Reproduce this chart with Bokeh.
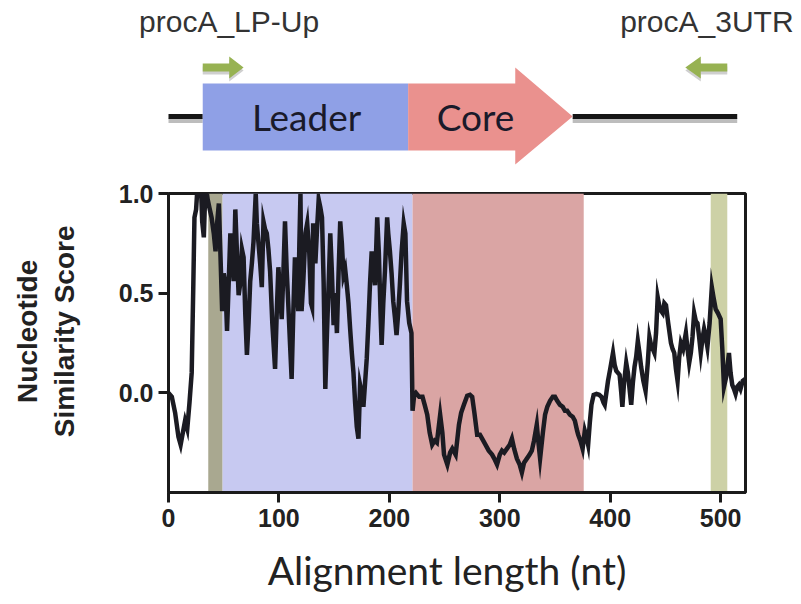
from bokeh.plotting import figure
from bokeh.layouts import column
from bokeh.models import Range1d, FixedTicker, NumeralTickFormatter, BoxAnnotation, Div
from bokeh.core.properties import value
from bokeh.embed import file_html
from bokeh.resources import INLINE

# ---------------- data ----------------
pos = [0, 3, 6, 9, 11, 13, 15, 17, 19, 21, 22.5, 23.5, 25, 27, 29, 30.5, 32, 33.5, 35.5, 37, 39,
       41, 42.6, 44, 45.6, 47, 48.6, 50, 51.6, 53, 54.5, 56, 57.5, 59, 60.5, 62, 63.5, 65, 66.5, 68,
       69.5, 71, 72.5, 74, 75.5, 77, 79, 80, 81.5, 83, 84.5, 86, 87.5, 89, 90.5, 92, 94, 96.5, 98,
       99.5, 101, 102.5, 104, 105.5, 107, 108.5, 110, 111.5, 113, 114.5, 116, 117.5, 118.5, 119.5,
       120.5, 122, 124, 125.6, 127.5, 129, 130, 131, 133, 134.5, 136, 137.5, 139, 140.5, 142, 143.5,
       145, 146.5, 148, 149.5, 151, 152.5, 154, 155.5, 157, 158.5, 160, 161.5, 163, 164.5, 166,
       167.5, 169, 170.5, 172, 173.5, 175, 176.5, 178, 179.5, 181, 182.5, 184, 185.5, 187, 189,
       190.5, 192, 193, 194.5, 196, 198, 199, 200.5, 202, 203.5, 205, 206.5, 208, 209.5, 211, 213,
       214.5, 216, 218, 220, 221, 222.5,
       224, 227, 230, 232, 234.3, 236.5, 238.8, 241, 243, 246, 248, 249.5, 252.5, 255, 257, 260,
       263, 265, 267.5, 270.5, 273, 275, 277, 279.5, 282, 284, 287, 290, 293, 295, 297.5, 300, 302,
       304, 306.5, 309, 311, 313, 315.5, 318, 320, 322, 324.5, 327, 329, 331, 333.5, 335, 336.5,
       339, 341, 343, 345.5, 348, 350, 352, 354.5, 357, 359, 361, 363.5, 366, 368, 370, 371, 373,
       375, 377, 378.5, 380, 381.5, 383, 385, 387.5, 390, 392, 394, 395, 396.5, 398, 400, 402.5,
       404, 405.5, 407, 408.5, 410, 411, 412.5, 414.5, 416, 417.5, 419, 420.5, 422, 423.5, 425,
       426.5, 428, 430, 432, 434, 435.5, 437, 438.5, 440, 441.5, 443, 445, 447.5, 449, 450.5,
       452.5, 455, 456.5, 458, 459.5, 461, 462.5, 464, 466, 468.5, 470, 471.5, 473, 474.5, 476,
       477.5, 479, 480.5, 482, 483.5, 485, 486.5, 488, 490, 492, 493.5, 495.5, 497.5, 500, 501.5,
       503, 505, 507.5, 509, 510.5, 512, 513.5, 515, 516.5, 518, 520, 522.5]
score = [0.0, -0.02, -0.10, -0.22, -0.26, -0.20, -0.14, -0.18, -0.05, 0.10, 0.55, 0.88, 0.92, 1.1, 1.1, 0.86, 0.78, 1.05, 0.97, 0.93, 0.88,
         0.80, 0.71, 0.85, 0.95, 0.70, 0.41, 0.60, 0.54, 0.31, 0.55, 0.80, 0.70, 0.56, 0.92, 0.70, 0.49, 0.55, 0.72, 0.68,
         0.40, 0.19, 0.35, 0.56, 0.65, 0.76, 1.0, 0.85, 0.75, 0.65, 0.53, 0.86, 0.82, 0.80, 0.72, 0.61, 0.35, 0.12, 0.40,
         0.63, 0.50, 0.37, 0.60, 0.86, 0.62, 0.44, 0.25, 0.07, 0.40, 0.68, 0.55, 0.41, 0.75, 1.0,
         0.41, 0.55, 0.80, 0.85, 0.70, 0.45, 0.43, 0.85, 0.65, 0.82, 0.97, 0.93, 0.88, 0.55, 0.02, 0.30,
         0.54, 0.80, 0.60, 0.34, 0.50, 0.30, 0.60, 0.86, 0.75, 0.59, 0.62, 0.54, 0.45, 0.32, 0.20,
         0.10, -0.05, -0.17, -0.23, 0.04, 0.00, -0.07, 0.05, 0.17, 0.35, 0.55, 0.71, 0.62, 0.54, 0.88,
         0.70, 0.40, 0.24, 0.45, 0.61, 0.88, 0.80, 0.71, 0.60, 0.46, 0.38, 0.29, 0.40, 0.54, 0.70, 0.85,
         0.80, 0.46, 0.35, 0.30, -0.09, -0.01,
         0.0, -0.02, -0.02, -0.06, -0.11, -0.20, -0.26, -0.24, -0.25, -0.11, -0.20, -0.31, -0.36, -0.30, -0.28, -0.31,
         -0.16, -0.10, -0.06, -0.015, -0.01, -0.02, -0.10, -0.21, -0.21, -0.23, -0.26, -0.29, -0.31, -0.33, -0.36, -0.31, -0.29,
         -0.30, -0.28, -0.26, -0.23, -0.28, -0.33, -0.36, -0.40, -0.35, -0.33, -0.31, -0.29, -0.24, -0.16, -0.25, -0.33,
         -0.20, -0.11, -0.07, -0.04, -0.02, -0.02, -0.04, -0.06, -0.07, -0.09, -0.09, -0.11, -0.12, -0.14, -0.19, -0.21, -0.24,
         -0.28, -0.19, -0.22, -0.26, -0.15, -0.06, -0.01, -0.005, -0.01, -0.02, -0.05, -0.06, 0.00, 0.06, 0.12, 0.20,
         0.14, 0.11, 0.10, 0.09, 0.00, -0.07, 0.05, 0.15, 0.10, 0.02, -0.06, 0.05, 0.13, 0.18, 0.26,
         0.20, 0.13, 0.06, 0.01, 0.15, 0.28, 0.24, 0.22, 0.20, 0.30, 0.48, 0.42, 0.40, 0.45, 0.44,
         0.35, 0.25, 0.22, 0.20, 0.12, 0.06, 0.18, 0.25, 0.22, 0.30, 0.22, 0.15, 0.20, 0.28, 0.40,
         0.36, 0.35, 0.28, 0.20, 0.27, 0.32, 0.28, 0.23, 0.35, 0.53, 0.48, 0.42, 0.40, 0.37, 0.22,
         0.03, 0.08, 0.20, 0.10, 0.04, 0.02, -0.005, 0.03, 0.04, 0.02, 0.06, 0.07]

# shaded regions on the alignment (nt)
region_start = [36, 49, 221, 491]
region_end = [49, 221, 376, 506]
region_color = ["#a9a890", "#c7c9f1", "#daa5a4", "#cdd1a6"]

x_ticks = [0, 100, 200, 300, 400, 500]
y_ticks = [0.0, 0.5, 1.0]
x_max = 522.5
y_min, y_max = -0.5, 1.0

# gene schematic (nt positions)
backbone = [-7, 515]
leader = [31, 217]
core = [217, 314, 366]          # box start, head base, tip
primer_fwd = [31, 55, 68]       # shaft start, head base, tip
primer_rev = [506, 482, 468]
primer_names = ["procA_LP-Up", "procA_3UTR"]
primer_label_x = [55.3, 488]
box_names = ["Leader", "Core"]
box_label_x = [125, 278]

# ---------------- layout ----------------
W = 801
H_LBL = 44
H_TOP = 126
H_MAIN = 434
ML, MR, MT, MB = 168, 56, 23, 112
px_per_nt = (W - ML - MR) / x_max
NB = "\u00a0"

p = figure(width=W, height=H_MAIN, x_range=Range1d(0, x_max), y_range=Range1d(y_min, y_max),
           output_backend="svg", toolbar_location=None,
           min_border_left=ML, min_border_right=MR, min_border_top=MT, min_border_bottom=MB)
p.background_fill_color = "white"
p.border_fill_color = "white"

for s, e, c in zip(region_start, region_end, region_color):
    p.add_layout(BoxAnnotation(left=s, right=e, fill_color=c, fill_alpha=1.0,
                               line_color=None, level="underlay"))

p.line(pos, score, line_color="#1b1b22", line_width=4.5, line_join="miter")

p.grid.visible = False
p.outline_line_color = "#1b1b1b"
p.outline_line_width = 3
p.xaxis.ticker = FixedTicker(ticks=x_ticks)
p.yaxis.ticker = FixedTicker(ticks=y_ticks)
p.yaxis.formatter = NumeralTickFormatter(format="0.0")
for ax in (p.xaxis, p.yaxis):
    ax.axis_line_width = 3
    ax.axis_line_color = "#1b1b1b"
    ax.major_tick_line_width = 3
    ax.major_tick_line_color = "#1b1b1b"
    ax.major_tick_out = 10
    ax.major_tick_in = 0
    ax.minor_tick_line_color = None
    ax.major_label_text_font = "Liberation Sans"
    ax.major_label_text_font_style = "bold"
    ax.major_label_text_font_size = "25px"
    ax.major_label_text_color = "#222222"
p.xaxis.major_label_standoff = 6
p.yaxis.major_label_standoff = 5

p.xaxis.axis_label = "Alignment length (nt)" + NB * 2
p.xaxis.axis_label_text_font = "Lato"
p.xaxis.axis_label_text_font_style = "normal"
p.xaxis.axis_label_text_font_size = "39px"
p.xaxis.axis_label_text_color = "#222222"
p.xaxis.axis_label_standoff = 17

p.yaxis.axis_label = NB * 3 + "Nucleotide\n" + NB * 3 + "Similarity Score"
p.yaxis.axis_label_text_font = "Liberation Sans"
p.yaxis.axis_label_text_font_style = "bold"
p.yaxis.axis_label_text_font_size = "28px"
p.yaxis.axis_label_text_color = "#222222"
p.yaxis.axis_label_standoff = 36

# ---------------- primer names (HTML text above the schematic) ----------------
spans = "".join(
    '<span style="position:absolute;left:%.1fpx;top:7px;transform:translateX(-50%%);'
    'white-space:nowrap;">%s</span>' % (ML + lx * px_per_nt, name)
    for name, lx in zip(primer_names, primer_label_x))
lbl = Div(text='<div style="position:relative;width:%dpx;height:%dpx;'
               "font-family:'Liberation Sans';font-size:30px;line-height:30px;"
               'color:#333333;">%s</div>' % (W, H_LBL, spans),
          width=W, height=H_LBL, margin=0)

# ---------------- top schematic (same x scale as the plot below) ----------------
t = figure(width=W, height=H_TOP, x_range=p.x_range, y_range=Range1d(H_TOP + H_LBL, H_LBL),
           output_backend="svg", toolbar_location=None,
           min_border_left=ML, min_border_right=MR, min_border_top=0, min_border_bottom=0)
t.axis.visible = False
t.grid.visible = False
t.outline_line_color = None
t.background_fill_color = "white"
t.border_fill_color = "white"

LINE_Y, BOX_T, BOX_B, HEAD_T, HEAD_B = 116, 83, 150, 67, 164
PR_Y, SHAFT_H, HEAD_H = 67, 8, 22
SH = 4  # shadow offset

t.line([backbone[0], leader[0]], [LINE_Y + SH] * 2, line_color="#bdbdbd", line_width=5)
t.line([core[2], backbone[1]], [LINE_Y + SH] * 2, line_color="#bdbdbd", line_width=5)
t.line([backbone[0], leader[0]], [LINE_Y] * 2, line_color="#161616", line_width=5)
t.line([core[2], backbone[1]], [LINE_Y] * 2, line_color="#161616", line_width=5)

t.quad(left=[leader[0]], right=[leader[1]], top=[BOX_T], bottom=[BOX_B],
       fill_color="#8fa0e6", line_color=None)
t.patch([core[0], core[1], core[1], core[2], core[1], core[1], core[0]],
        [BOX_T, BOX_T, HEAD_T, LINE_Y, HEAD_B, BOX_B, BOX_B],
        fill_color="#ea918e", line_color=None)


def arrow(a):
    s, b, tip = a
    xs = [s, b, b, tip, b, b, s]
    ys = [PR_Y - SHAFT_H / 2, PR_Y - SHAFT_H / 2, PR_Y - HEAD_H / 2, PR_Y,
          PR_Y + HEAD_H / 2, PR_Y + SHAFT_H / 2, PR_Y + SHAFT_H / 2]
    return xs, ys


for a in (primer_fwd, primer_rev):
    xs, ys = arrow(a)
    t.patch(xs, [y + 3 for y in ys], fill_color="#cfcfcf", line_color=None)
    t.patch(xs, ys, fill_color="#97b252", line_color=None)

t.text(x=box_label_x, y=[LINE_Y, LINE_Y], text=box_names,
       text_font=value("Lato"), text_font_size="37px",
       text_align="center", text_baseline="middle", text_color="#1a1a2a")

layout = column(lbl, t, p, spacing=0)
open("out.html", "w").write(file_html(layout, INLINE))
